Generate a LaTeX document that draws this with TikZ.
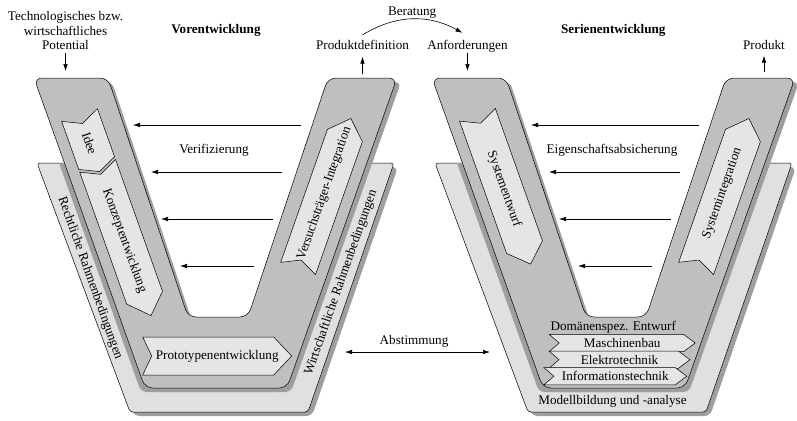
\documentclass[tikz,border=0pt]{standalone}
\usepackage{fontspec}
\setmainfont{Liberation Serif}
\usetikzlibrary{arrows.meta, positioning}

\definecolor{phasegray}{gray}{0.75}
\definecolor{framegray}{gray}{0.88}
\definecolor{shadegray}{gray}{0.62}
\definecolor{stagegray}{gray}{0.9}
\newcommand\labelsize{\fontsize{13.2}{14.7}\selectfont}

% arrow box: notch on the west side, point on the east side
\makeatletter
\pgfkeys{/pgf/chevron tip/.initial=18bp, /pgf/chevron notch/.initial=9bp}
\pgfdeclareshape{chevron}{%
  \inheritsavedanchors[from=rectangle]%
  \inheritanchorborder[from=rectangle]%
  \inheritanchor[from=rectangle]{center}%
  \inheritanchor[from=rectangle]{base}%
  \inheritanchor[from=rectangle]{north}%
  \inheritanchor[from=rectangle]{south}%
  \inheritanchor[from=rectangle]{east}%
  \inheritanchor[from=rectangle]{west}%
  \inheritanchor[from=rectangle]{north east}%
  \inheritanchor[from=rectangle]{north west}%
  \inheritanchor[from=rectangle]{south east}%
  \inheritanchor[from=rectangle]{south west}%
  \backgroundpath{%
    \southwest\edef\chev@l{\the\pgf@x}\edef\chev@b{\the\pgf@y}%
    \northeast\edef\chev@r{\the\pgf@x}\edef\chev@t{\the\pgf@y}%
    \pgfmathsetlengthmacro\chev@m{(\chev@b+\chev@t)/2}%
    \pgfmathsetlengthmacro\chev@rb{\chev@r-\pgfkeysvalueof{/pgf/chevron tip}}%
    \pgfmathsetlengthmacro\chev@ln{\chev@l+\pgfkeysvalueof{/pgf/chevron notch}}%
    \pgfpathmoveto{\pgfqpoint{\chev@l}{\chev@t}}%
    \pgfpathlineto{\pgfqpoint{\chev@rb}{\chev@t}}%
    \pgfpathlineto{\pgfqpoint{\chev@r}{\chev@m}}%
    \pgfpathlineto{\pgfqpoint{\chev@rb}{\chev@b}}%
    \pgfpathlineto{\pgfqpoint{\chev@l}{\chev@b}}%
    \pgfpathlineto{\pgfqpoint{\chev@ln}{\chev@m}}%
    \pgfpathclose
  }%
}
\makeatother
\tikzset{chevron tip/.code={\pgfkeys{/pgf/chevron tip=#1}},
  chevron notch/.code={\pgfkeys{/pgf/chevron notch=#1}}}

\tikzstyle{vmodel}=[x=1bp, y=-1bp, font=\labelsize, inner sep=1bp]
\tikzstyle{phase}=[draw, line width=0.5bp, fill=phasegray, rounded corners=8bp]
\tikzstyle{frame}=[draw, line width=0.5bp, fill=framegray, rounded corners=3bp]
\tikzstyle{shade}=[fill=shadegray, rounded corners=6bp]
\tikzstyle{stage}=[shape=chevron, draw, line width=0.5bp, fill=stagegray,
  inner sep=0pt, outer sep=0pt, minimum height=38bp]
\tikzstyle{domstage}=[minimum height=17.4bp, chevron tip=11.7bp, chevron notch=10bp]
\tikzstyle{downarm}=[rotate=-70.4]
\tikzstyle{uparm}=[rotate=70.6]
\tikzstyle{flow}=[-{Latex[length=7bp,width=4.5bp]}, line width=0.6bp]
\tikzstyle{both}=[{Latex[length=7bp,width=4.5bp]}-{Latex[length=7bp,width=4.5bp]}, line width=0.6bp]

\newcommand\frameV{(37,163) -- (130,412) -- (308,412) -- (394,163)
  -- (362,163) -- (282,380) -- (152,380) -- (68,163) -- cycle}
\newcommand\phaseV{(34,78) -- (145,388) -- (287,388) -- (397,78)
  -- (328,78) -- (248,317) -- (188,317) -- (108,78) -- cycle}

\begin{document}
\begin{tikzpicture}[vmodel]
  \path[fill=white] (0,0) rectangle (797,420);
  \useasboundingbox (0,0) rectangle (797,420);

  % the two V shapes with their frames
  \foreach \dx in {0,398} {
    \begin{scope}[shift={(\dx,0)}]
      \fill[shade, shift={(4,4)}] \frameV;
      \path[frame] \frameV;
      \begin{scope}
        \clip \frameV;
        \fill[shade, shift={(-4,4)}] \phaseV;
      \end{scope}
      \fill[shade, shift={(4,4)}] \phaseV;
      \path[phase] \phaseV;
    \end{scope}
  }

  % Vorentwicklung
  \node[stage, downarm, chevron tip=9bp, minimum width=60bp] (idee) at (89.6,143.3) {Idee};
  \node[stage, downarm, chevron tip=19bp, minimum width=159bp] (konz) at (124.3,240.7) {Konzeptentwicklung};
  \node[stage, uparm, minimum width=159bp, minimum height=37bp] (vers) at (324.5,193.5) {Versuchsträger-Integration};
  \node[stage, minimum width=149bp] (proto) at (217.2,356) {Prototypenentwicklung};
  \node[downarm] (recht) at (90,278) {Rechtliche Rahmenbedingungen};
  \node[uparm] (wirt) at (341,282.5) {Wirtschaftliche Rahmenbedingungen};

  % Serienentwicklung
  \node[stage, downarm, minimum width=158.5bp] (sysent) at (504,189.4) {Systementwurf};
  \node[stage, uparm, minimum width=159bp, minimum height=37bp] (sysint) at (722.5,193.5) {Systemintegration};
  \node[stage, domstage, minimum width=146bp] (masch) at (622.2,343) {Maschinenbau};
  \node[stage, domstage, minimum width=141bp] (elek) at (619.5,359.7) {Elektrotechnik};
  \node[stage, domstage, minimum width=143bp] (info) at (615.3,376.2) {Informationstechnik};
  \node[anchor=base] (dom) at (613.3,330) {Domänenspez. Entwurf};
  \node[anchor=base] (modell) at (612.5,404) {Modellbildung und -analyse};

  % labels on top
  \node[anchor=north, align=center] (pot) at (65.5,10.3) {Technologisches bzw.\\wirtschaftliches\\Potential};
  \node[anchor=base, font=\labelsize\bfseries] (vorent) at (216,33.3) {Vorentwicklung};
  \node[anchor=base, font=\labelsize\bfseries] (serient) at (613.3,33.3) {Serienentwicklung};
  \node[anchor=base] (prod) at (362.5,49.3) {Produktdefinition};
  \node[base right=16bp of prod] (anf) {Anforderungen};
  \node[anchor=base] (produkt) at (764,49.3) {Produkt};

  \coordinate (potin) at (pot.south |- 0,71);
  \coordinate (prodout) at (prod.south |- 0,74);
  \coordinate (anfin) at (anf.south |- 0,71);
  \coordinate (produktout) at (produkt.south |- 0,72);
  \coordinate (ber1) at ([yshift=4bp]prod.north);
  \coordinate (ber2) at ([xshift=-5bp, yshift=6bp]anf.north);

  \draw[flow, shorten <=2bp] (pot) -- (potin);
  \draw[flow, shorten >=6bp] (prodout) -- (prod);
  \draw[flow] (anf) -- (anfin);
  \draw[flow, shorten >=5bp] (produktout) -- (produkt);
  \draw[flow] (ber1) to[bend left=30] node[above] {Beratung} (ber2);

  % feedback arrows between the arms
  \foreach \dx/\txt in {0/Verifizierung, 398/Eigenschaftsabsicherung} {
    \foreach \y/\xa/\xb in {125/133/301, 172/151/282, 219/161/273, 266/180/254} {
      \coordinate (tail) at (\xb+\dx,\y);
      \coordinate (head) at (\xa+\dx,\y);
      \draw[flow] (tail) -- (head);
    }
    \node[anchor=base] at (214+\dx,153) {\txt};
  }

  \coordinate (ab1) at (345,352);
  \coordinate (ab2) at (490,352);
  \draw[both] (ab1) -- node[pos=0.476, above=3bp] {Abstimmung} (ab2);
\end{tikzpicture}
\end{document}
